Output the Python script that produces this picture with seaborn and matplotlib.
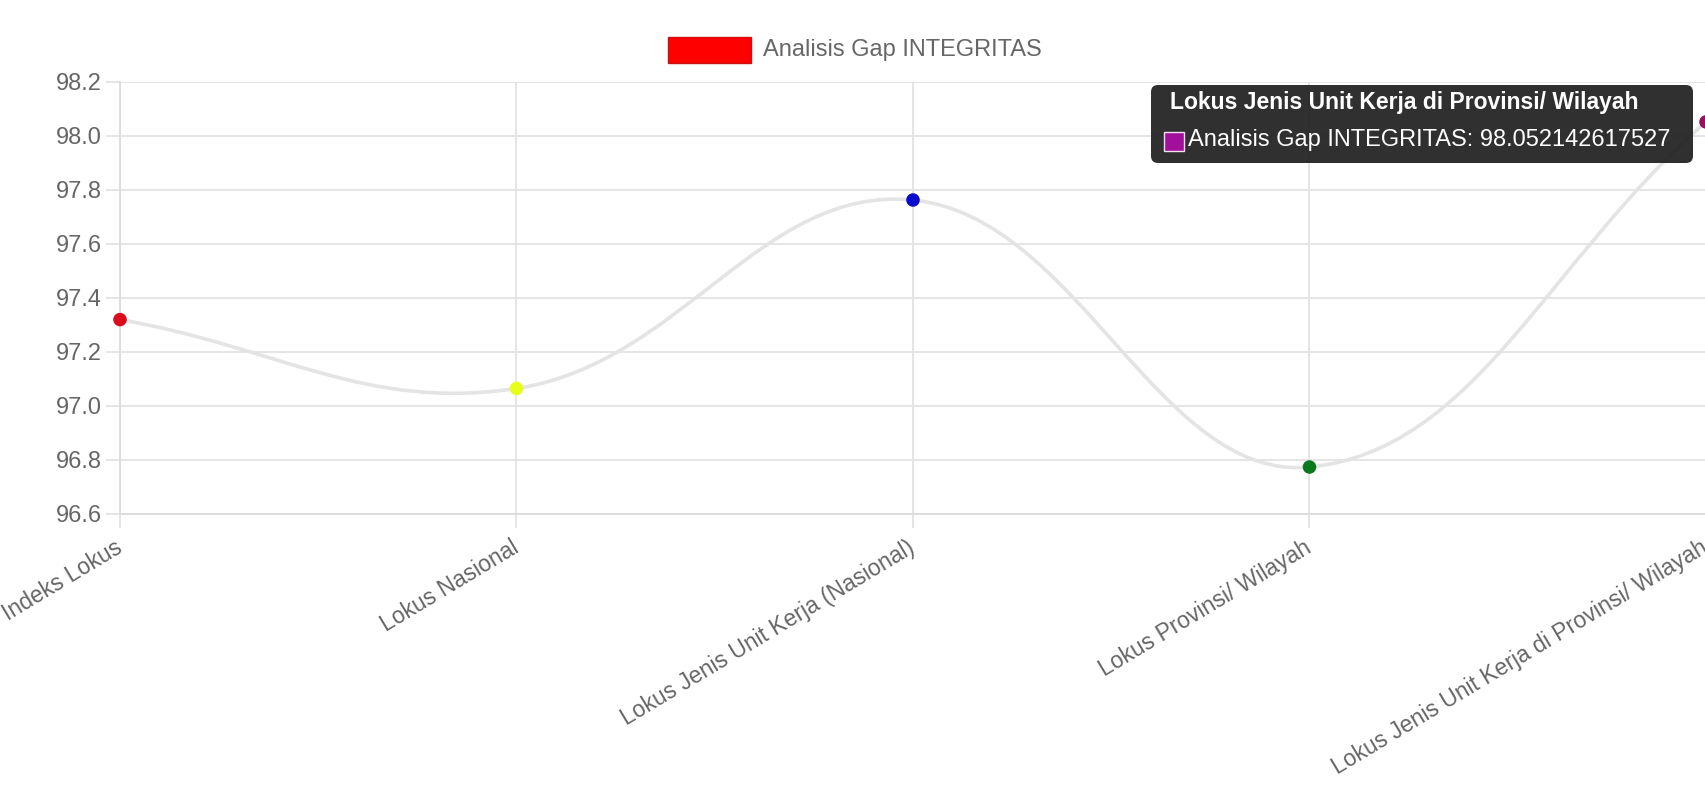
import numpy as np
import seaborn as sns
import matplotlib.pyplot as plt
from matplotlib.path import Path
from matplotlib.patches import PathPatch, Rectangle, FancyBboxPatch
from matplotlib.transforms import IdentityTransform

# data
labels = ["Indeks Lokus", "Lokus Nasional", "Lokus Jenis Unit Kerja (Nasional)",
          "Lokus Provinsi/ Wilayah", "Lokus Jenis Unit Kerja di Provinsi/ Wilayah"]
values = [97.32, 97.065, 97.763, 96.774, 98.052142617527]
point_colors = ["#dd0a1e", "#e6ff1a", "#0a0acc", "#0b7a1e", "#99105e"]
series_name = "Analisis Gap INTEGRITAS"
y_ticks = [96.6, 96.8, 97.0, 97.2, 97.4, 97.6, 97.8, 98.0, 98.2]

sns.set_style("white")
plt.rcParams["font.family"] = ["Liberation Sans", "DejaVu Sans"]
text_color = "#666666"
grid_color = "#e3e3e3"

fig = plt.figure(figsize=(17.06, 7.92), dpi=100)
ax = fig.add_axes([120 / 1706, 1 - 514 / 792, 1 - 120 / 1706, 432 / 792])

x = np.arange(len(labels))
ax.set_xlim(0, len(labels) - 1)
ax.set_ylim(y_ticks[0], y_ticks[-1])

# smooth line like chart.js (tension 0.4), control points in pixel space
pts = ax.transData.transform(np.column_stack([x, values]))
t = 0.4
cps = []
for i in range(len(pts)):
    prev = pts[i - 1] if i > 0 else pts[i]
    nxt = pts[i + 1] if i < len(pts) - 1 else pts[i]
    cur = pts[i]
    d01 = np.hypot(*(cur - prev))
    d12 = np.hypot(*(nxt - cur))
    s01 = d01 / (d01 + d12)
    s12 = d12 / (d01 + d12)
    cps.append((cur - t * s01 * (nxt - prev), cur + t * s12 * (nxt - prev)))
verts = [pts[0]]
codes = [Path.MOVETO]
for i in range(len(pts) - 1):
    verts += [cps[i][1], cps[i + 1][0], pts[i + 1]]
    codes += [Path.CURVE4] * 3
verts = ax.transData.inverted().transform(np.array(verts))
ax.add_patch(PathPatch(Path(verts, codes), fill=False, edgecolor="#e4e4e4",
                       lw=2.6, zorder=2, capstyle="round"))

sns.scatterplot(x=x, y=values, hue=labels, palette=point_colors, legend=False,
                s=95, edgecolor=None, linewidth=0, zorder=3, ax=ax, clip_on=False)

# axes styling
ax.set_yticks(y_ticks)
ax.set_yticklabels([f"{v:.1f}" for v in y_ticks])
ax.set_xticks(x)
ax.set_xticklabels(labels, rotation=31, ha="right", va="center", rotation_mode="anchor")
ax.grid(True, color=grid_color, lw=1.3)
ax.tick_params(axis="both", length=10, width=1.3, color=grid_color, labelcolor=text_color,
               labelsize=17, left=True, bottom=True)
ax.tick_params(axis="x", labelsize=16.5, pad=13)
ax.tick_params(axis="y", pad=3)
for side in ["top", "right"]:
    ax.spines[side].set_visible(False)
for side in ["left", "bottom"]:
    ax.spines[side].set_color("#dcdcdc")
    ax.spines[side].set_linewidth(1.3)
ax.set_xlabel("")
ax.set_ylabel("")

# legend
fig.add_artist(Rectangle((668 / 1706, 1 - 63 / 792), 83 / 1706, 26 / 792,
                         transform=fig.transFigure, facecolor="#ff0000",
                         edgecolor="#cc1010", lw=1))
fig.text(763 / 1706, 1 - 50 / 792, series_name, color=text_color, fontsize=17,
         va="center", ha="left")

# tooltip
idt = IdentityTransform()
fig.add_artist(FancyBboxPatch((1151, 629), 542, 78, boxstyle="round,pad=0,rounding_size=7",
                              transform=idt, facecolor="#1e1e1e", edgecolor="none",
                              alpha=0.92, zorder=5))
fig.text(1170 / 1706, 690 / 792, labels[-1], color="white", fontsize=16.5,
         fontweight="bold", va="center", ha="left", zorder=6)
fig.add_artist(Rectangle((1164, 641), 20, 19, transform=idt, facecolor="#a0109a",
                         edgecolor="#f0e0f0", lw=1, zorder=6))
fig.text(1188 / 1706, 652 / 792, f"{series_name}: {values[-1]}", color="white",
         fontsize=17, va="center", ha="left", zorder=6)

fig.savefig("out.png", dpi=100)
